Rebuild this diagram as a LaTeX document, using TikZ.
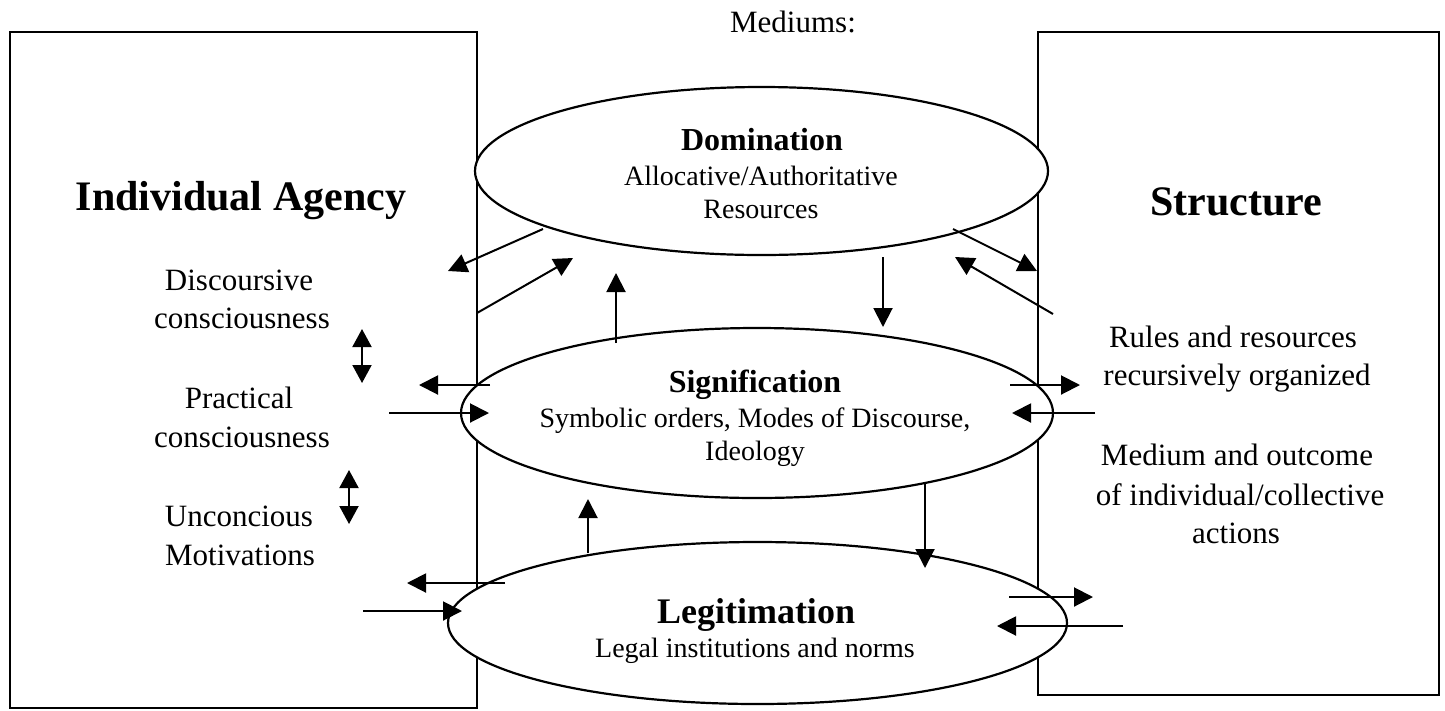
\documentclass[tikz,border=0pt]{standalone}
\usepackage{fontspec}
\setmainfont{Liberation Serif}
\usetikzlibrary{shapes.geometric,arrows.meta}
\begin{document}
\begin{tikzpicture}[x=1pt,y=-1pt,
  box/.style={draw,line width=2.2pt,inner sep=0pt,outer sep=0pt,anchor=north west},
  oval/.style={ellipse,draw,fill=white,line width=2.2pt,inner sep=0pt,outer sep=0pt},
  conn/.style={line width=2pt,-{Triangle[length=19pt,width=19pt]}},
  dconn/.style={line width=2pt,{Triangle[length=18pt,width=19pt]}-{Triangle[length=18pt,width=19pt]}},
  side/.style={anchor=base,inner sep=0pt,font=\fontsize{31}{37}\selectfont},
  body/.style={anchor=base,inner sep=0pt,font=\fontsize{28}{34}\selectfont},
  head/.style={anchor=base,inner sep=0pt,font=\fontsize{32}{38}\selectfont\bfseries},
  big/.style={anchor=base,inner sep=0pt,font=\fontsize{42}{50}\selectfont\bfseries}
]
\useasboundingbox[fill=white] (0,0) rectangle (1445,710);

% boxes
\node[box,minimum width=467pt,minimum height=676pt] (agency) at (10,32) {};
\node[box,minimum width=401pt,minimum height=663pt] (structure) at (1038,32) {};

% ellipses
\node[oval,minimum width=573pt,minimum height=168pt] (dom) at (761.5,171) {};
\node[oval,minimum width=592pt,minimum height=170pt] (sig) at (757,413) {};
\node[oval,minimum width=619pt,minimum height=162pt] (leg) at (757.5,623) {};

% texts
\node[side] (mediums) at (793,32) {Mediums:};
\node[big] (agencyT) at (241,210) {Individual Agency};
\node[big] (structT) at (1236,215) {Structure};

\node[side] (disc1) at (239,290) {Discoursive};
\node[side] (disc2) at (242,328) {consciousness};
\node[side] (prac1) at (239,408) {Practical};
\node[side] (prac2) at (242,447) {consciousness};
\node[side] (unc1) at (239,526) {Unconcious};
\node[side] (unc2) at (240,565) {Motivations};

\node[side] (rul1) at (1233,347) {Rules and resources};
\node[side] (rul2) at (1237,385) {recursively organized};
\node[side] (med1) at (1237,465) {Medium and outcome};
\node[side] (med2) at (1240,505) {of individual/collective};
\node[side] (med3) at (1236,543) {actions};

\node[head] (domT) at (762,150) {Domination};
\node[body] (dom1) at (761,185) {Allocative/Authoritative};
\node[body] (dom2) at (761,218) {Resources};

\node[head] (sigT) at (755,392) {Signification};
\node[body] (sig1) at (755,427) {Symbolic orders, Modes of Discourse,};
\node[body] (sig2) at (755,460) {Ideology};

\node[head,font=\fontsize{36}{42}\selectfont\bfseries] (legT) at (756,623) {Legitimation};
\node[body] (leg1) at (755,657) {Legal institutions and norms};

% connector end points
\coordinate (a1s) at (543,229);  \coordinate (a1e) at (448,271);
\coordinate (a2s) at (477,313);  \coordinate (a2e) at (573,258);
\coordinate (a3s) at (616,343);  \coordinate (a3e) at (616,273);
\coordinate (a4s) at (883,257);  \coordinate (a4e) at (883,327);
\coordinate (a5s) at (953,229);  \coordinate (a5e) at (1037,271);
\coordinate (a6s) at (1053,314); \coordinate (a6e) at (955,257);
\coordinate (a7s) at (490,385);  \coordinate (a7e) at (419,385);
\coordinate (a8s) at (389,413);  \coordinate (a8e) at (489,413);
\coordinate (a9s) at (1010,385); \coordinate (a9e) at (1080,385);
\coordinate (a10s) at (1095,413); \coordinate (a10e) at (1012,413);
\coordinate (a11s) at (588,553); \coordinate (a11e) at (588,499);
\coordinate (a12s) at (925,484); \coordinate (a12e) at (925,568);
\coordinate (a13s) at (505,583); \coordinate (a13e) at (407,583);
\coordinate (a14s) at (363,611); \coordinate (a14e) at (462,611);
\coordinate (a15s) at (1009,597); \coordinate (a15e) at (1093,597);
\coordinate (a16s) at (1123,626); \coordinate (a16e) at (997,626);
\coordinate (d1s) at (362,329);  \coordinate (d1e) at (362,383);
\coordinate (d2s) at (349,470);  \coordinate (d2e) at (349,524);

% connectors
\draw[conn] (a1s) -- (a1e);
\draw[conn] (a2s) -- (a2e);
\draw[conn] (a3s) -- (a3e);
\draw[conn] (a4s) -- (a4e);
\draw[conn] (a5s) -- (a5e);
\draw[conn] (a6s) -- (a6e);
\draw[conn] (a7s) -- (a7e);
\draw[conn] (a8s) -- (a8e);
\draw[conn] (a9s) -- (a9e);
\draw[conn] (a10s) -- (a10e);
\draw[conn] (a11s) -- (a11e);
\draw[conn] (a12s) -- (a12e);
\draw[conn] (a13s) -- (a13e);
\draw[conn] (a14s) -- (a14e);
\draw[conn] (a15s) -- (a15e);
\draw[conn] (a16s) -- (a16e);
\draw[dconn] (d1s) -- (d1e);
\draw[dconn] (d2s) -- (d2e);
\end{tikzpicture}
\end{document}
